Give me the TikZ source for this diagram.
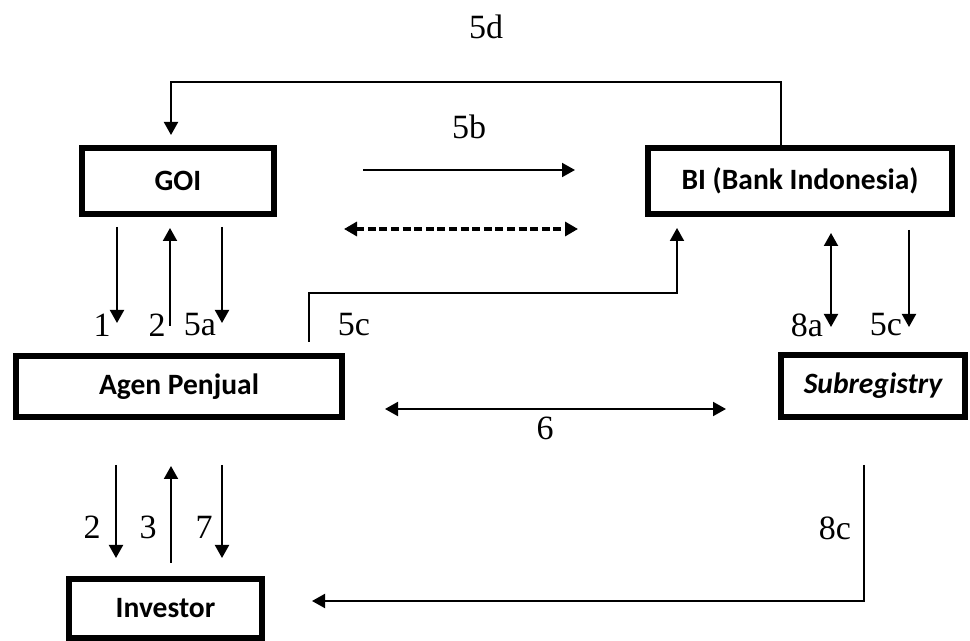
\documentclass[tikz,border=0pt]{standalone}
\usepackage{fontspec}
\setmainfont{Liberation Serif}
\newfontfamily\boxfont{Carlito}
\usetikzlibrary{arrows.meta}

\begin{document}
\begin{tikzpicture}[x=0.5pt, y=-0.5pt,
    box/.style={draw, line width=3pt, inner sep=0pt, font=\boxfont\fontsize{14.75}{17}\selectfont\bfseries},
    lbl/.style={inner sep=0pt, font=\fontsize{17}{20}\selectfont},
    arr/.style={line width=1pt, -{Triangle[length=6.5pt,width=7pt]}},
    dbl/.style={line width=1pt, {Triangle[length=6.5pt,width=7pt]}-{Triangle[length=6.5pt,width=7pt]}}]
      \useasboundingbox (0,0) rectangle (970,641);

      % Boxes
      \node[box, minimum width=96pt, minimum height=33pt] (goi) at (178,181) {GOI};
      \node[box, minimum width=152pt, minimum height=33pt] (bi) at (800,181) {BI (Bank Indonesia)};
      \node[box, minimum width=163pt, minimum height=30.5pt] (agen) at (179,386.5) {Agen Penjual};
      \node[box, minimum width=92pt, minimum height=31pt] (subreg) at (873,386) {\itshape Subregistry};
      \node[box, minimum width=96.5pt, minimum height=29.5pt] (inv) at (165.5,608.5) {Investor};

      % BI back to GOI (5d)
      \draw[arr, shorten >=5pt] ([xshift=-9.5pt]bi.north) -- ++(0,-63) -| ([xshift=-3.5pt]goi.north);
      \node[lbl] (l5d) at (486,27) {5d};

      % GOI and BI (5b)
      \draw[arr, shorten <=43pt, shorten >=35pt] ([yshift=5.5pt]goi.east) -- ([yshift=5.5pt]bi.west);
      \node[lbl] (l5b) at (469,127) {5b};
      \coordinate (dl) at (344,229);
      \coordinate (dr) at (578,229);
      \draw[dbl, line width=1.6pt, dash pattern=on 4pt off 1.8pt] (dl) -- (dr);

      % GOI and Agen Penjual
      \draw[arr, shorten <=5pt, shorten >=15pt] ([xshift=-30.5pt]goi.south) -- ([xshift=-30.5pt]goi.south |- agen.north);
      \draw[arr, shorten <=13.5pt, shorten >=5.5pt] ([xshift=-4pt]goi.south |- agen.north) -- ([xshift=-4pt]goi.south);
      \draw[arr, shorten <=5pt, shorten >=15pt] ([xshift=22pt]goi.south) -- ([xshift=22pt]goi.south |- agen.north);
      \node[lbl] (l1) at (102,325) {1};
      \node[lbl] (l2) at (157,325) {2};
      \node[lbl] (l5a) at (200,325) {5a};

      % Agen Penjual to BI (5c)
      \draw[arr, shorten <=5.5pt, shorten >=5.5pt] ([xshift=65pt]agen.north) -- ++(0,-60) -| ([xshift=-61.5pt]bi.south);
      \node[lbl] (l5c) at (354,325) {5c};

      % BI and Subregistry
      \draw[dbl, shorten <=8pt, shorten >=12.5pt] ([xshift=15.5pt]bi.south) -- ([xshift=15.5pt]bi.south |- subreg.north);
      \draw[arr, shorten <=6.5pt, shorten >=12.5pt] ([xshift=54.5pt]bi.south) -- ([xshift=54.5pt]bi.south |- subreg.north);
      \node[lbl] (l8a) at (807,325) {8a};
      \node[lbl] (l5c2) at (886,325) {5c};

      % Agen Penjual and Subregistry (6)
      \draw[dbl, shorten <=20pt, shorten >=26pt] ([yshift=-11.25pt]agen.east) -- ([yshift=-11.25pt]agen.east -| subreg.west);
      \node[lbl] (l6) at (545,428) {6};

      % Agen Penjual and Investor
      \draw[arr, shorten <=22.5pt, shorten >=9pt] ([xshift=-31.5pt]agen.south) -- ([xshift=-31.5pt]agen.south |- inv.north);
      \draw[arr, shorten <=6.5pt, shorten >=23pt] ([xshift=-4pt]agen.south |- inv.north) -- ([xshift=-4pt]agen.south);
      \draw[arr, shorten <=22.5pt, shorten >=9pt] ([xshift=21.5pt]agen.south) -- ([xshift=21.5pt]agen.south |- inv.north);
      \node[lbl] (l2b) at (92,527) {2};
      \node[lbl] (l3) at (148,527) {3};
      \node[lbl] (l7) at (204,527) {7};

      % Subregistry to Investor (8c)
      \draw[arr, shorten <=22.5pt, shorten >=23.5pt] ([xshift=-4.5pt]subreg.south) |- ([yshift=3.75pt]inv.east);
      \node[lbl] (l8c) at (835,528) {8c};
\end{tikzpicture}
\end{document}
